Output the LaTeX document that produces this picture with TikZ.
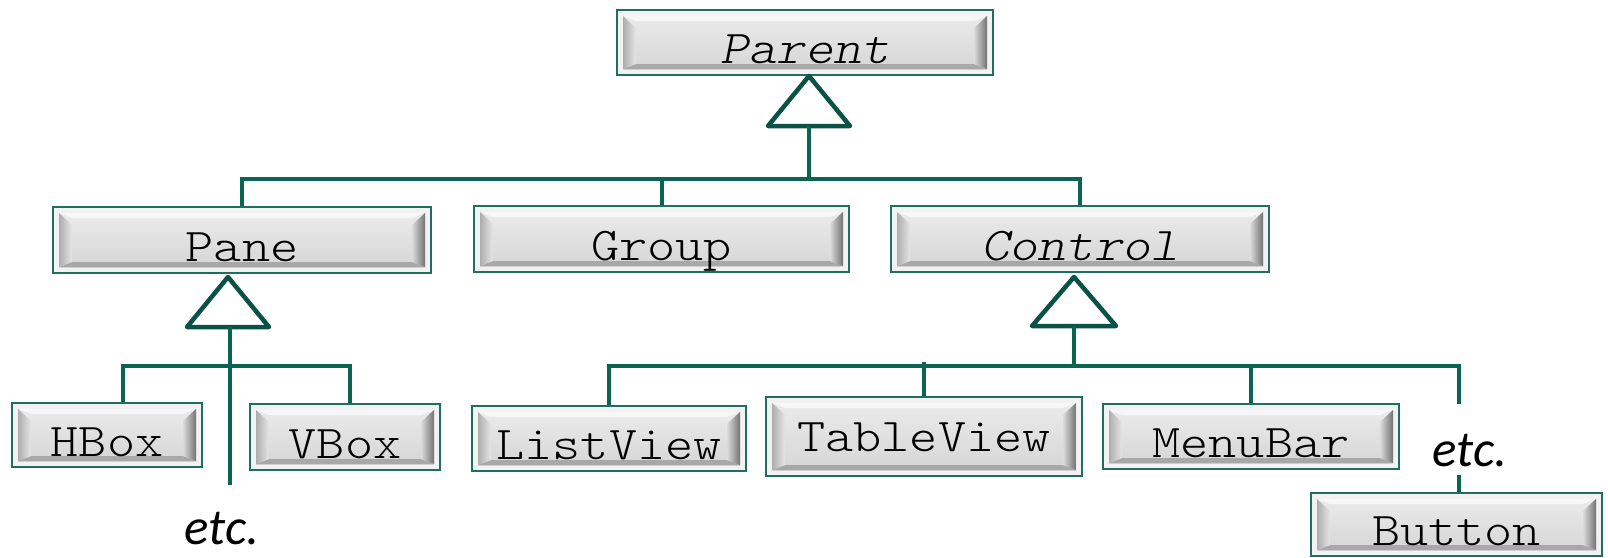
\documentclass[tikz,border=0pt]{standalone}
\usepackage{fontspec}
\newfontfamily\btnfamily{lmmonolt10-regular}[Extension=.otf, ItalicFont=lmmonolt10-regular, ItalicFeatures={FakeSlant=0.2}, FakeStretch=1.14]
\newfontfamily\etcfont{Carlito}
\usetikzlibrary{calc}
\definecolor{boxteal}{HTML}{1F6E60}
\definecolor{linecol}{HTML}{0B6352}
\definecolor{tricol}{HTML}{0B5246}
\definecolor{framegray}{HTML}{F2F2F2}
\newcommand\btnfont{\btnfamily\fontsize{47}{47}\selectfont}
\tikzset{
  btn/.style n args={2}{draw=boxteal, line width=2.8pt, fill=framegray,
    inner sep=0pt, minimum width=#1pt, minimum height=#2pt,
    font=\btnfont, text height=42pt, text depth=0pt,
    path picture={
      \path (path picture bounding box.north west) coordinate (bnw)
            (path picture bounding box.south east) coordinate (bse);
      \coordinate (i1) at ($(bnw)+(6pt,-6pt)$);
      \coordinate (i2) at ($(bse)+(-6pt,6pt)$);
      \shade[top color=white!92!black, bottom color=white!84!black]
        (i1) rectangle (i2);
      \fill[white!97!black] (i1) -- (i1 -| i2) -- ($(i1 -| i2)+(-13pt,-5pt)$) -- ($(i1)+(13pt,-5pt)$) -- cycle;
      \fill[white!66!black] (i2 -| i1) -- (i2) -- ($(i2)+(-13pt,5pt)$) -- ($(i2 -| i1)+(13pt,5pt)$) -- cycle;
      \shade[left color=white!68!black, right color=white!90!black]
        (i1) -- ($(i1)+(13pt,-12pt)$) -- ($(i2 -| i1)+(13pt,5pt)$) -- (i2 -| i1) -- cycle;
      \shade[left color=white!86!black, right color=white!45!black]
        (i1 -| i2) -- ($(i1 -| i2)+(-13pt,-12pt)$) -- ($(i2)+(-13pt,5pt)$) -- (i2) -- cycle;
    }},
  conn/.style={draw=linecol, line width=4pt},
  tri/.style={draw=tricol, line width=4.5pt, line join=round, fill=white},
  etclabel/.style={font=\etcfont\itshape\fontsize{51}{51}\selectfont, inner sep=0pt, anchor=base}
}
\begin{document}
\begin{tikzpicture}[x=1pt, y=-1pt]
\useasboundingbox (0,0) rectangle (1608,557);

% boxes
\node[btn={376}{65}] (parent) at (805,42.5) {\itshape Parent};
\node[btn={378}{66}] (pane) at (242,240) {Pane};
\node[btn={375}{66}] (group) at (661.5,239) {Group};
\node[btn={378}{66}] (control) at (1080,239) {\itshape Control};
\node[btn={190}{64}] (hbox) at (107,435) {HBox};
\node[btn={190}{66}] (vbox) at (345,437) {VBox};
\node[btn={274}{65}] (listview) at (609,438.5) {ListView};
\node[btn={316}{79}, text height=29pt] (tableview) at (924,436.5) {TableView};
\node[btn={296}{65}] (menubar) at (1251,436.5) {MenuBar};
\node[btn={291}{63}] (button) at (1456.5,524.5) {Button};

% etc labels
\node[etclabel] (etcA) at (222,544) {etc.};
\node[etclabel] (etcB) at (1470,466) {etc.};

% Parent inheritance
\draw[tri] (809,76) coordinate (pApex) -- (850,126) -- (768,126) -- cycle;
\coordinate (pBase) at (809,126);
\coordinate (pBar) at (809,179);
\draw[conn] (pBase) -- (pBar);
\draw[conn] (pane.north) |- (control.north |- pBar) -- (control.north);
\draw[conn] (group.north) -- (group.north |- pBar);

% Pane inheritance
\draw[tri] (228,277) coordinate (qApex) -- (269,327) -- (187,327) -- cycle;
\coordinate (qBase) at (230,327);
\coordinate (qBar) at (230,366);
\coordinate (hdrop) at (123,366);
\coordinate (vdrop) at (350,366);
\coordinate (qEnd) at (230,485);
\draw[conn] (qBase) -- (qEnd);
\draw[conn] (hdrop |- hbox.north) -- (hdrop) -- (vdrop) -- (vdrop |- vbox.north);

% Control inheritance
\draw[tri] (1074,277) coordinate (cApex) -- (1116,326) -- (1032,326) -- cycle;
\coordinate (cBase) at (1074,326);
\coordinate (cBar) at (1074,366);
\coordinate (edrop) at (1459,366);
\coordinate (edropEnd) at (1459,404);
\coordinate (eTop) at (1459,475);
\draw[conn] (cBase) -- (cBar);
\draw[conn] (listview.north) |- (edrop) -- (edropEnd);
\draw[conn] (tableview.north) -- ($(tableview.north |- cBar)+(0,-4)$);
\draw[conn] (menubar.north) -- (menubar.north |- cBar);
\draw[conn] (eTop) -- (eTop |- button.north);
\end{tikzpicture}
\end{document}
